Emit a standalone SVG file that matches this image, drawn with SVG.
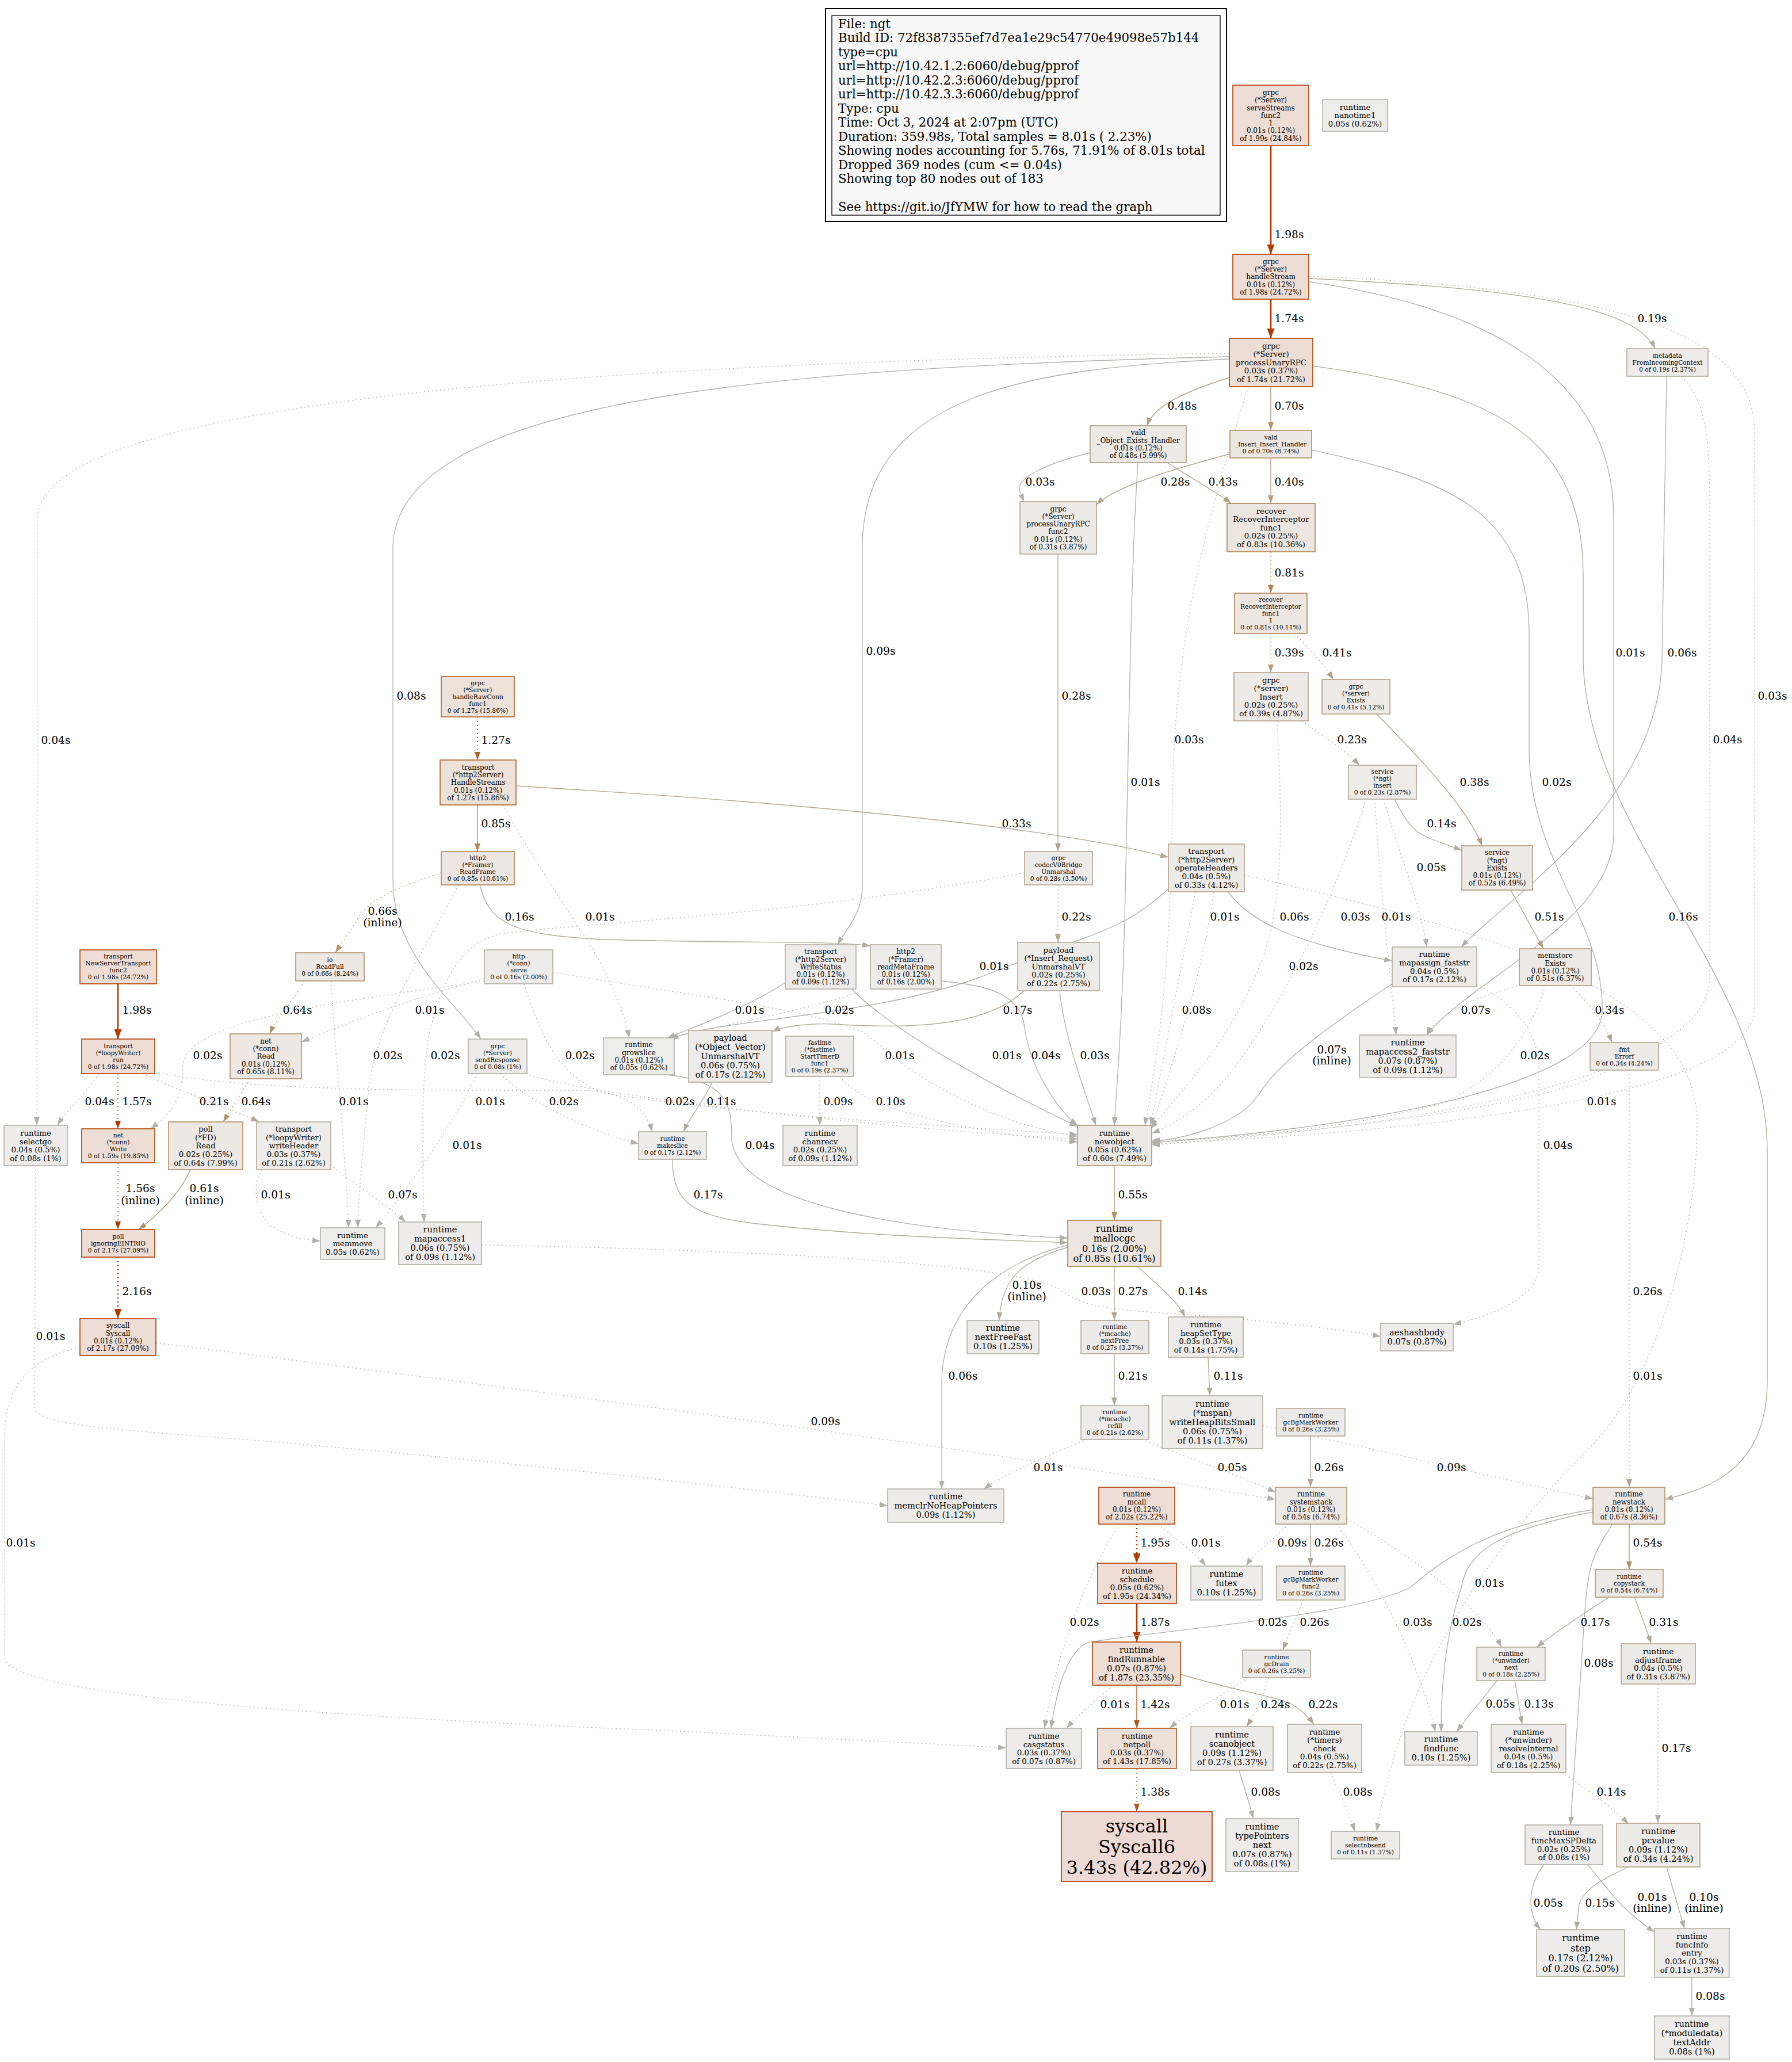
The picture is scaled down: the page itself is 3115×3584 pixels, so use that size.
<svg xmlns="http://www.w3.org/2000/svg" width="3115" height="3584" viewBox="0 0 3115 3584">
<style>
text{font-family:"DejaVu Serif","Liberation Serif",serif;fill:#000}
.n text{text-anchor:middle}
.f8{font-size:10.67px}.f9{font-size:12px}.f10{font-size:13.33px}.f11{font-size:14.67px}.f12{font-size:16px}.f24{font-size:32px}
.n rect{stroke-width:1.6}
#edges path{fill:none;stroke-width:1.33}
#edges path.w{stroke-width:2.7}
#edges path.d{stroke-dasharray:2,5}
.k1{stroke:#b23c00;marker-end:url(#m1)}
.k1.w{marker-end:url(#m1w)}
.k2{stroke:#b25718;marker-end:url(#m2)}
.k2b{stroke:#b26124;marker-end:url(#m2b)}
.k3{stroke:#b28456;marker-end:url(#m3)}
.k4{stroke:#b2916b;marker-end:url(#m4)}
.k5{stroke:#b29d81;marker-end:url(#m5)}
.k6{stroke:#b2a691;marker-end:url(#m6)}
.k7{stroke:#b2ac9f;marker-end:url(#m7)}
.k8{stroke:#b2b0aa;marker-end:url(#m8)}
.el{font-size:18.67px;text-anchor:middle}
.lg{font-size:21.33px}
</style>
<defs>
<marker id="m1" viewBox="0 0 14 10" refX="14" refY="5" markerWidth="14" markerHeight="10" markerUnits="userSpaceOnUse" orient="auto"><path d="M0,0 L14,5 L0,10 z" fill="#b23c00"/></marker>
<marker id="m1w" viewBox="0 0 17 13" refX="17" refY="6.5" markerWidth="17" markerHeight="13" markerUnits="userSpaceOnUse" orient="auto"><path d="M0,0 L17,6.5 L0,13 z" fill="#b23c00"/></marker>
<marker id="m2" viewBox="0 0 14 10" refX="14" refY="5" markerWidth="14" markerHeight="10" markerUnits="userSpaceOnUse" orient="auto"><path d="M0,0 L14,5 L0,10 z" fill="#b25718"/></marker>
<marker id="m2b" viewBox="0 0 14 10" refX="14" refY="5" markerWidth="14" markerHeight="10" markerUnits="userSpaceOnUse" orient="auto"><path d="M0,0 L14,5 L0,10 z" fill="#b26124"/></marker>
<marker id="m3" viewBox="0 0 14 10" refX="14" refY="5" markerWidth="14" markerHeight="10" markerUnits="userSpaceOnUse" orient="auto"><path d="M0,0 L14,5 L0,10 z" fill="#b28456"/></marker>
<marker id="m4" viewBox="0 0 14 10" refX="14" refY="5" markerWidth="14" markerHeight="10" markerUnits="userSpaceOnUse" orient="auto"><path d="M0,0 L14,5 L0,10 z" fill="#b2916b"/></marker>
<marker id="m5" viewBox="0 0 14 10" refX="14" refY="5" markerWidth="14" markerHeight="10" markerUnits="userSpaceOnUse" orient="auto"><path d="M0,0 L14,5 L0,10 z" fill="#b29d81"/></marker>
<marker id="m6" viewBox="0 0 14 10" refX="14" refY="5" markerWidth="14" markerHeight="10" markerUnits="userSpaceOnUse" orient="auto"><path d="M0,0 L14,5 L0,10 z" fill="#b2a691"/></marker>
<marker id="m7" viewBox="0 0 14 10" refX="14" refY="5" markerWidth="14" markerHeight="10" markerUnits="userSpaceOnUse" orient="auto"><path d="M0,0 L14,5 L0,10 z" fill="#b2ac9f"/></marker>
<marker id="m8" viewBox="0 0 14 10" refX="14" refY="5" markerWidth="14" markerHeight="10" markerUnits="userSpaceOnUse" orient="auto"><path d="M0,0 L14,5 L0,10 z" fill="#b2b0aa"/></marker>
</defs>
<rect x="0" y="0" width="3115" height="3584" fill="#ffffff"/>

<g id="legend">
<rect x="1435" y="15" width="697" height="370" fill="none" stroke="#000" stroke-width="2"/>
<rect x="1446" y="27" width="675" height="347" fill="#f8f8f8" stroke="#000" stroke-width="1.33"/>
<text class="lg" x="1457" y="48.5">File: ngt<tspan x="1457" dy="24.5">Build ID: 72f8387355ef7d7ea1e29c54770e49098e57b144</tspan><tspan x="1457" dy="24.5">type=cpu</tspan><tspan x="1457" dy="24.5">url=http://10.42.1.2:6060/debug/pprof</tspan><tspan x="1457" dy="24.5">url=http://10.42.2.3:6060/debug/pprof</tspan><tspan x="1457" dy="24.5">url=http://10.42.3.3:6060/debug/pprof</tspan><tspan x="1457" dy="24.5">Type: cpu</tspan><tspan x="1457" dy="24.5">Time: Oct 3, 2024 at 2:07pm (UTC)</tspan><tspan x="1457" dy="24.5">Duration: 359.98s, Total samples = 8.01s ( 2.23%)</tspan><tspan x="1457" dy="24.5">Showing nodes accounting for 5.76s, 71.91% of 8.01s total</tspan><tspan x="1457" dy="24.5">Dropped 369 nodes (cum &lt;= 0.04s)</tspan><tspan x="1457" dy="24.5">Showing top 80 nodes out of 183</tspan><tspan x="1457" dy="49">See https://git.io/JfYMW for how to read the graph</tspan></text>
</g>

<g id="edges">
<path class="k1 w" d="M2209,253 L2209,442"/>
<path class="k1 w" d="M2209,520 L2209,588"/>
<path class="k7" d="M2276,484 C2600,500 2840,525 2877,606"/>
<path class="k8" d="M2276,490 C2560,530 2805,640 2805,900 L2805,1450 C2805,1600 2560,1700 2480,1799"/>
<path class="k8 d" d="M2276,480 C2750,500 3050,560 3050,750 L3050,1750 C3050,1930 2300,1975 2002,1988"/>
<path class="k5" d="M2150,652 C2060,680 2005,705 1994,740"/>
<path class="k4" d="M2209,672 L2209,748"/>
<path class="k8 d" d="M2170,672 C2100,900 2040,1100 2038,1400 C2035,1700 2010,1850 1990,1956"/>
<path class="k8" d="M2137,624 C1800,640 1500,680 1499,950 L1499,1540 C1499,1590 1470,1615 1456,1642"/>
<path class="k8" d="M2137,620 C1300,640 690,700 683,950 L683,1530 C683,1660 790,1740 836,1806"/>
<path class="k8 d" d="M2137,614 C1000,630 70,700 65,900 L64,1956"/>
<path class="k8" d="M1895,787 C1820,805 1768,830 1772,852 L1780,872"/>
<path class="k6" d="M2138,789 C2040,815 1940,845 1906,877"/>
<path class="k5" d="M2029,804 C2065,828 2115,855 2140,875"/>
<path class="k5" d="M2209,796 L2209,875"/>
<path class="k8" d="M1978,804 C1965,1000 1962,1300 1955,1600 C1950,1800 1940,1900 1937,1956"/>
<path class="k8" d="M2280,782 C2500,830 2658,880 2658,1100 L2658,1300 C2658,1500 2790,1600 2785,1760 C2775,1900 2300,1965 2002,1986"/>
<path class="k3 d" d="M2209,959 L2209,1031"/>
<path class="k5 d" d="M2209,1101 L2209,1169"/>
<path class="k5 d" d="M2250,1101 C2280,1130 2300,1155 2318,1181"/>
<path class="k8" d="M2897,654 L2889,1150 C2880,1400 2620,1560 2540,1646"/>
<path class="k8 d" d="M2923,654 C2965,700 2972,750 2972,900 L2972,1700 C2972,1900 2300,1970 2002,1990"/>
<path class="k6" d="M1839,963 L1839,1480"/>
<path class="k6 d" d="M2263,1253 C2300,1280 2340,1305 2363,1330"/>
<path class="k8 d" d="M2220,1253 C2228,1400 2232,1550 2200,1650 C2150,1800 2050,1900 2000,1962"/>
<path class="k5" d="M2393,1241 C2450,1300 2550,1400 2576,1470"/>
<path class="k7" d="M2424,1389 C2440,1420 2455,1445 2480,1455 C2505,1465 2525,1472 2541,1478"/>
<path class="k8 d" d="M2405,1389 C2430,1480 2470,1570 2480,1646"/>
<path class="k8 d" d="M2390,1389 C2395,1500 2415,1680 2427,1799"/>
<path class="k8 d" d="M2375,1389 C2340,1500 2260,1700 2150,1850 C2100,1920 2040,1955 2002,1970"/>
<path class="k5" d="M2626,1547 L2683,1649"/>
<path class="k7" d="M2282,636 C2600,680 2752,760 2752,1000 L2752,1150 C2760,1450 3072,1700 3072,2000 L3072,2400 C3072,2560 2960,2590 2894,2606"/>
<path class="k2b d" d="M830,1246 L830,1321"/>
<path class="k3" d="M830,1399 L830,1480"/>
<path class="k6" d="M897,1366 C1300,1390 1800,1430 2031,1490"/>
<path class="k8 d" d="M874,1399 C930,1500 1000,1600 1030,1650 C1060,1700 1085,1760 1094,1804"/>
<path class="k4 d" d="M767,1517 C700,1540 640,1560 620,1600 C605,1625 590,1645 583,1656"/>
<path class="k7" d="M834,1538 C850,1600 880,1625 1050,1633 C1300,1640 1450,1635 1513,1644"/>
<path class="k6 d" d="M1839,1538 L1839,1638"/>
<path class="k8 d" d="M1781,1517 C1400,1590 1000,1605 870,1623 C800,1640 770,1700 745,1800 C730,1900 735,2050 737,2124"/>
<path class="k1 w" d="M205,1710 L205,1806"/>
<path class="k4 d" d="M529,1705 C510,1740 480,1770 469,1797"/>
<path class="k8 d" d="M842,1701 C700,1740 600,1780 524,1811"/>
<path class="k8 d" d="M842,1705 C600,1740 330,1770 318,1850 C318,1920 290,1940 262,1962"/>
<path class="k1 d" d="M205,1866 L205,1962"/>
<path class="k8 d" d="M172,1866 C150,1900 115,1930 100,1956"/>
<path class="k6 d" d="M248,1866 C320,1900 420,1935 450,1950"/>
<path class="k8 d" d="M255,1860 C400,1895 700,1896 1000,1895 C1080,1895 1120,1920 1134,1967"/>
<path class="k4 d" d="M435,1875 C420,1900 400,1930 388,1950"/>
<path class="k1 d" d="M205,2021 L205,2137"/>
<path class="k4" d="M331,2033 C310,2080 270,2115 241,2137"/>
<path class="k1 w d" d="M205,2185 L205,2292"/>
<path class="k8 d" d="M455,2033 C440,2060 440,2100 470,2130 C500,2150 530,2155 557,2157"/>
<path class="k8 d" d="M574,2025 C620,2060 680,2100 705,2124"/>
<path class="k8 d" d="M576,1705 C580,1800 600,2000 606,2134"/>
<path class="k8 d" d="M797,1538 C740,1650 650,1780 640,1900 C632,2000 622,2080 622,2134"/>
<path class="k8 d" d="M830,1866 C790,1950 700,2080 653,2134"/>
<path class="k8 d" d="M870,1866 C900,1900 1000,1960 1110,1988"/>
<path class="k8 d" d="M914,1866 C1000,1900 1500,1960 1873,1980"/>
<path class="k8 d" d="M911,1710 C940,1800 970,1870 1050,1900 C1300,1940 1700,1960 1873,1972"/>
<path class="k8 d" d="M961,1690 C1200,1730 1450,1760 1510,1800 C1560,1850 1700,1950 1873,1975"/>
<path class="k7" d="M1780,1722 C1720,1780 1600,1790 1450,1780 C1400,1778 1360,1785 1342,1793"/>
<path class="k8" d="M1842,1722 C1850,1800 1880,1880 1905,1956"/>
<path class="k8" d="M1636,1705 C1700,1712 1770,1720 1780,1780 C1790,1860 1840,1930 1873,1956"/>
<path class="k8" d="M1480,1719 C1560,1800 1750,1900 1873,1958"/>
<path class="k8" d="M1365,1708 C1300,1750 1220,1780 1160,1804"/>
<path class="k8 d" d="M1513,1717 C1400,1760 1250,1780 1165,1805"/>
<path class="k8" d="M2031,1545 C1950,1620 1900,1620 1700,1700 C1500,1770 1250,1770 1165,1806"/>
<path class="k8" d="M1160,1868 C1265,1880 1272,1920 1272,1980 C1280,2100 1600,2140 1856,2152"/>
<path class="k7" d="M1238,1881 C1225,1910 1200,1940 1188,1967"/>
<path class="k7" d="M1169,2015 C1170,2080 1190,2110 1300,2125 C1500,2150 1750,2155 1856,2160"/>
<path class="k8 d" d="M1425,1871 L1425,1956"/>
<path class="k7 d" d="M1460,1871 C1500,1930 1700,1970 1873,1985"/>
<path class="k4" d="M1937,2026 L1937,2121"/>
<path class="k7" d="M1856,2168 C1780,2190 1740,2220 1737,2295"/>
<path class="k8" d="M1856,2164 C1720,2200 1640,2280 1637,2400 L1637,2588"/>
<path class="k6" d="M1937,2201 L1937,2295"/>
<path class="k7" d="M1977,2201 C2020,2240 2045,2260 2060,2289"/>
<path class="k8 d" d="M837,2164 C1200,2170 1750,2190 1840,2240 C1880,2270 1920,2276 2050,2284 C2200,2295 2330,2310 2400,2323"/>
<path class="k6" d="M1937,2353 L1937,2443"/>
<path class="k7" d="M2100,2359 L2103,2426"/>
<path class="k8 d" d="M1890,2502 C1820,2530 1750,2560 1710,2588"/>
<path class="k8 d" d="M1985,2502 C2080,2540 2170,2570 2217,2594"/>
<path class="k6" d="M2278,2496 L2278,2585"/>
<path class="k8 d" d="M271,2334 C800,2400 1400,2480 1800,2540 C2000,2570 2150,2595 2217,2606"/>
<path class="k8 d" d="M2195,2478 C2400,2520 2650,2580 2769,2605"/>
<path class="k1 w d" d="M1976,2649 L1976,2717"/>
<path class="k8 d" d="M2013,2649 C2050,2680 2080,2700 2096,2722"/>
<path class="k8 d" d="M1946,2649 C1880,2750 1830,2900 1816,3004"/>
<path class="k8 d" d="M2240,2649 C2210,2680 2180,2700 2166,2722"/>
<path class="k6" d="M2278,2649 L2278,2722"/>
<path class="k8 d" d="M2323,2649 C2400,2750 2470,2900 2495,3010"/>
<path class="k8 d" d="M2341,2640 C2450,2700 2580,2800 2610,2863"/>
<path class="k1 w" d="M1976,2787 L1976,2854"/>
<path class="k8" d="M2769,2624 C2600,2650 2520,2700 2450,2760 C2350,2810 2000,2835 1890,2855 C1850,2875 1835,2950 1827,3004"/>
<path class="k8" d="M2769,2628 C2600,2660 2550,2700 2540,2760 C2510,2850 2505,2950 2505,3010"/>
<path class="k4" d="M2832,2649 L2832,2728"/>
<path class="k8" d="M2803,2649 C2770,2700 2760,2720 2755,2800 L2730,3172"/>
<path class="k6 d" d="M2265,2781 C2255,2810 2240,2840 2230,2868"/>
<path class="k8 d" d="M1934,2929 C1900,2960 1870,2985 1854,3004"/>
<path class="k2" d="M1976,2929 L1976,3004"/>
<path class="k6" d="M2052,2910 C2150,2940 2230,2950 2250,2965 C2265,2975 2275,2985 2284,2997"/>
<path class="k8 d" d="M2170,2916 C2120,2950 2060,2980 2033,3004"/>
<path class="k6 d" d="M2205,2916 C2195,2950 2180,2980 2167,3001"/>
<path class="k2 d" d="M1976,3074 L1976,3149"/>
<path class="k8" d="M2154,3077 L2179,3161"/>
<path class="k8 d" d="M2313,3081 C2330,3120 2345,3150 2355,3183"/>
<path class="k8 d" d="M2163,1521 C2500,1600 2950,1700 2950,1950 C2950,2150 2880,2400 2760,2520 C2600,2680 2440,2900 2393,3183"/>
<path class="k7" d="M2797,2776 C2760,2800 2700,2840 2671,2863"/>
<path class="k6" d="M2841,2776 C2850,2800 2862,2830 2870,2857"/>
<path class="k8" d="M2602,2921 C2580,2950 2550,2985 2532,3010"/>
<path class="k7" d="M2633,2921 C2638,2950 2642,2975 2646,2997"/>
<path class="k7 d" d="M2715,3081 C2760,3110 2800,3140 2831,3170"/>
<path class="k7 d" d="M2882,2927 L2882,3169"/>
<path class="k8" d="M2684,3241 C2660,3270 2650,3320 2678,3354"/>
<path class="k8" d="M2760,3241 C2800,3290 2820,3320 2876,3358"/>
<path class="k7" d="M2830,3245 C2790,3265 2755,3280 2745,3310 L2740,3354"/>
<path class="k7" d="M2897,3245 L2928,3352"/>
<path class="k8" d="M2941,3437 L2941,3504"/>
<path class="k8 d" d="M139,2342 C60,2360 8,2400 8,2500 L8,2880 C8,2950 600,2985 1200,3010 C1500,3025 1700,3035 1749,3038"/>
<path class="k8 d" d="M62,2026 L60,2440 C60,2470 100,2478 400,2500 C900,2540 1400,2600 1543,2617"/>
<path class="k8" d="M2135,1550 C2170,1600 2250,1640 2420,1670"/>
<path class="k8 d" d="M2078,1550 C2050,1700 2020,1850 2000,1956"/>
<path class="k8 d" d="M2110,1550 C2090,1700 2030,1870 2002,1960"/>
<path class="k8" d="M2420,1710 C2300,1790 2220,1850 2190,1900 C2150,1960 2050,1980 2002,1984"/>
<path class="k8 d" d="M2643,1713 C2600,1725 2560,1735 2520,1760 C2500,1775 2485,1785 2480,1799"/>
<path class="k6 d" d="M2729,1713 C2760,1740 2790,1780 2802,1812"/>
<path class="k8 d" d="M2686,1713 C2660,1800 2600,1880 2500,1920 C2300,1970 2100,1980 2002,1982"/>
<path class="k8 d" d="M2567,1710 C2620,1740 2670,1780 2675,1850 L2675,2200 C2675,2260 2580,2290 2526,2302"/>
<path class="k8 d" d="M2796,1860 C2700,1920 2300,1970 2002,1986"/>
<path class="k6 d" d="M2832,1860 L2832,2585"/>

<text class="el" x="2241" y="413.5">1.98s</text>
<text class="el" x="2241" y="559.5">1.74s</text>
<text class="el" x="2872" y="559.5">0.19s</text>
<text class="el" x="2055" y="711.5">0.48s</text>
<text class="el" x="2241" y="711.5">0.70s</text>
<text class="el" x="1808" y="843.5">0.03s</text>
<text class="el" x="2043" y="843.5">0.28s</text>
<text class="el" x="2126" y="843.5">0.43s</text>
<text class="el" x="2241" y="843.5">0.40s</text>
<text class="el" x="2241" y="1001.5">0.81s</text>
<text class="el" x="2241" y="1140.5">0.39s</text>
<text class="el" x="2324" y="1140.5">0.41s</text>
<text class="el" x="2834" y="1140.5">0.01s</text>
<text class="el" x="2924" y="1140.5">0.06s</text>
<text class="el" x="3081" y="1215.5">0.03s</text>
<text class="el" x="1871" y="1215.5">0.28s</text>
<text class="el" x="1531" y="1137.5">0.09s</text>
<text class="el" x="715" y="1215.5">0.08s</text>
<text class="el" x="97" y="1292.5">0.04s</text>
<text class="el" x="862" y="1292.5">1.27s</text>
<text class="el" x="2067" y="1291.5">0.03s</text>
<text class="el" x="2350" y="1291.5">0.23s</text>
<text class="el" x="3003" y="1291.5">0.04s</text>
<text class="el" x="1991" y="1365.5">0.01s</text>
<text class="el" x="2563" y="1365.5">0.38s</text>
<text class="el" x="2706" y="1365.5">0.02s</text>
<text class="el" x="862" y="1437.5">0.85s</text>
<text class="el" x="1767" y="1437.5">0.33s</text>
<text class="el" x="2506" y="1437.5">0.14s</text>
<text class="el" x="2488" y="1513.5">0.05s</text>
<text class="el" x="665" y="1589.5">0.66s</text>
<text class="el" x="665" y="1610">(inline)</text>
<text class="el" x="903" y="1599.5">0.16s</text>
<text class="el" x="1043" y="1599.5">0.01s</text>
<text class="el" x="1871" y="1599.5">0.22s</text>
<text class="el" x="2129" y="1599.5">0.01s</text>
<text class="el" x="2250" y="1599.5">0.06s</text>
<text class="el" x="2356" y="1599.5">0.03s</text>
<text class="el" x="2427" y="1599.5">0.01s</text>
<text class="el" x="2693" y="1599.5">0.51s</text>
<text class="el" x="2926" y="1599.5">0.16s</text>
<text class="el" x="1728" y="1686">0.01s</text>
<text class="el" x="2266" y="1686">0.02s</text>
<text class="el" x="238" y="1761.5">1.98s</text>
<text class="el" x="517" y="1761.5">0.64s</text>
<text class="el" x="747" y="1761.5">0.01s</text>
<text class="el" x="1303" y="1761.5">0.01s</text>
<text class="el" x="1459" y="1761.5">0.02s</text>
<text class="el" x="1769" y="1761.5">0.17s</text>
<text class="el" x="2080" y="1761.5">0.08s</text>
<text class="el" x="2565" y="1761.5">0.07s</text>
<text class="el" x="2798" y="1761.5">0.34s</text>
<text class="el" x="2315" y="1830.5">0.07s</text>
<text class="el" x="2315" y="1849.5">(inline)</text>
<text class="el" x="361" y="1840.5">0.02s</text>
<text class="el" x="674" y="1840.5">0.02s</text>
<text class="el" x="774" y="1840.5">0.02s</text>
<text class="el" x="1008" y="1840.5">0.02s</text>
<text class="el" x="1564" y="1840.5">0.01s</text>
<text class="el" x="1750" y="1840.5">0.01s</text>
<text class="el" x="1818" y="1840.5">0.04s</text>
<text class="el" x="1903" y="1840.5">0.03s</text>
<text class="el" x="2668" y="1840.5">0.02s</text>
<text class="el" x="173" y="1920.5">0.04s</text>
<text class="el" x="238" y="1920.5">1.57s</text>
<text class="el" x="372" y="1920.5">0.21s</text>
<text class="el" x="445" y="1920.5">0.64s</text>
<text class="el" x="615" y="1920.5">0.01s</text>
<text class="el" x="852" y="1920.5">0.01s</text>
<text class="el" x="980" y="1920.5">0.02s</text>
<text class="el" x="1182" y="1920.5">0.02s</text>
<text class="el" x="1254" y="1920.5">0.11s</text>
<text class="el" x="1457" y="1920.5">0.09s</text>
<text class="el" x="1548" y="1920.5">0.10s</text>
<text class="el" x="2784" y="1920.5">0.01s</text>
<text class="el" x="812" y="1996.5">0.01s</text>
<text class="el" x="1321" y="1996.5">0.04s</text>
<text class="el" x="2708" y="1996.5">0.04s</text>
<text class="el" x="244" y="2072">1.56s</text>
<text class="el" x="244" y="2092.5">(inline)</text>
<text class="el" x="355" y="2072">0.61s</text>
<text class="el" x="355" y="2092.5">(inline)</text>
<text class="el" x="479" y="2082.5">0.01s</text>
<text class="el" x="700" y="2082.5">0.07s</text>
<text class="el" x="1231" y="2082.5">0.17s</text>
<text class="el" x="1969" y="2082.5">0.55s</text>
<text class="el" x="238" y="2250.5">2.16s</text>
<text class="el" x="1785" y="2239.5">0.10s</text>
<text class="el" x="1785" y="2260">(inline)</text>
<text class="el" x="1905" y="2250.5">0.03s</text>
<text class="el" x="1969" y="2250.5">0.27s</text>
<text class="el" x="2073" y="2250.5">0.14s</text>
<text class="el" x="2864" y="2250.5">0.26s</text>
<text class="el" x="88" y="2328.5">0.01s</text>
<text class="el" x="1674" y="2398">0.06s</text>
<text class="el" x="1969" y="2398">0.21s</text>
<text class="el" x="2135" y="2398">0.11s</text>
<text class="el" x="2864" y="2398">0.01s</text>
<text class="el" x="1435" y="2477">0.09s</text>
<text class="el" x="1822" y="2556.5">0.01s</text>
<text class="el" x="2142" y="2556.5">0.05s</text>
<text class="el" x="2310" y="2556.5">0.26s</text>
<text class="el" x="2523" y="2556.5">0.09s</text>
<text class="el" x="36" y="2687.5">0.01s</text>
<text class="el" x="2008" y="2688">1.95s</text>
<text class="el" x="2096" y="2688">0.01s</text>
<text class="el" x="2246" y="2688">0.09s</text>
<text class="el" x="2310" y="2688">0.26s</text>
<text class="el" x="2864" y="2688">0.54s</text>
<text class="el" x="2589" y="2757.5">0.01s</text>
<text class="el" x="1885" y="2825.5">0.02s</text>
<text class="el" x="2008" y="2825.5">1.87s</text>
<text class="el" x="2212" y="2825.5">0.02s</text>
<text class="el" x="2285" y="2825.5">0.26s</text>
<text class="el" x="2464" y="2825.5">0.03s</text>
<text class="el" x="2550" y="2825.5">0.02s</text>
<text class="el" x="2773" y="2825.5">0.17s</text>
<text class="el" x="2892" y="2825.5">0.31s</text>
<text class="el" x="2779" y="2897">0.08s</text>
<text class="el" x="1938" y="2968.5">0.01s</text>
<text class="el" x="2008" y="2968.5">1.42s</text>
<text class="el" x="2146" y="2968.5">0.01s</text>
<text class="el" x="2217" y="2968.5">0.24s</text>
<text class="el" x="2300" y="2968.5">0.22s</text>
<text class="el" x="2608" y="2968">0.05s</text>
<text class="el" x="2675" y="2968">0.13s</text>
<text class="el" x="2914" y="3044.5">0.17s</text>
<text class="el" x="2008" y="3120.5">1.38s</text>
<text class="el" x="2200" y="3120.5">0.08s</text>
<text class="el" x="2360" y="3120.5">0.08s</text>
<text class="el" x="2801" y="3120.5">0.14s</text>
<text class="el" x="2691" y="3313.5">0.05s</text>
<text class="el" x="2781" y="3313.5">0.15s</text>
<text class="el" x="2872" y="3303.5">0.01s</text>
<text class="el" x="2872" y="3322.5">(inline)</text>
<text class="el" x="2962" y="3303.5">0.10s</text>
<text class="el" x="2962" y="3322.5">(inline)</text>
<text class="el" x="2973" y="3476">0.08s</text>
</g>

<g id="n-serveStreams" class="n"><rect x="2143" y="148" width="132" height="105" fill="#edddd5" stroke="#b23d00"/><text class="f9" x="2209" y="164.9">grpc<tspan x="2209" dy="13.3">(*Server)</tspan><tspan x="2209" dy="13.3">serveStreams</tspan><tspan x="2209" dy="13.3">func2</tspan><tspan x="2209" dy="13.3">1</tspan><tspan x="2209" dy="13.3">0.01s (0.12%)</tspan><tspan x="2209" dy="13.3">of 1.99s (24.84%)</tspan></text></g>
<g id="n-nanotime1" class="n"><rect x="2299" y="173" width="113" height="55" fill="#ededec" stroke="#b2b1ac"/><text class="f10" x="2355.5" y="190.7">runtime<tspan x="2355.5" dy="14.6">nanotime1</tspan><tspan x="2355.5" dy="14.6">0.05s (0.62%)</tspan></text></g>
<g id="n-handleStream" class="n"><rect x="2143" y="442" width="132" height="78" fill="#edddd5" stroke="#b23d00"/><text class="f9" x="2209" y="458.7">grpc<tspan x="2209" dy="13.3">(*Server)</tspan><tspan x="2209" dy="13.3">handleStream</tspan><tspan x="2209" dy="13.3">0.01s (0.12%)</tspan><tspan x="2209" dy="13.3">of 1.98s (24.72%)</tspan></text></g>
<g id="n-processUnaryRPC" class="n"><rect x="2137" y="588" width="145" height="84" fill="#edded5" stroke="#b24100"/><text class="f10" x="2209.5" y="605.6">grpc<tspan x="2209.5" dy="14.6">(*Server)</tspan><tspan x="2209.5" dy="14.6">processUnaryRPC</tspan><tspan x="2209.5" dy="14.6">0.03s (0.37%)</tspan><tspan x="2209.5" dy="14.6">of 1.74s (21.72%)</tspan></text></g>
<g id="n-FromIncomingContext" class="n"><rect x="2828" y="606" width="141" height="48" fill="#edecea" stroke="#b2ab9d"/><text class="f8" x="2898.5" y="621.8">metadata<tspan x="2898.5" dy="12">FromIncomingContext</tspan><tspan x="2898.5" dy="12">0 of 0.19s (2.37%)</tspan></text></g>
<g id="n-ObjectExistsHandler" class="n"><rect x="1895" y="740" width="167" height="64" fill="#edeae6" stroke="#b29b7d"/><text class="f9" x="1978.5" y="756.3">vald<tspan x="1978.5" dy="13.3">_Object_Exists_Handler</tspan><tspan x="1978.5" dy="13.3">0.01s (0.12%)</tspan><tspan x="1978.5" dy="13.3">of 0.48s (5.99%)</tspan></text></g>
<g id="n-InsertInsertHandler" class="n"><rect x="2138" y="748" width="142" height="48" fill="#ede8e2" stroke="#b28d64"/><text class="f8" x="2209" y="763.8">vald<tspan x="2209" dy="12">_Insert_Insert_Handler</tspan><tspan x="2209" dy="12">0 of 0.70s (8.74%)</tspan></text></g>
<g id="n-processUnaryRPCfunc2" class="n"><rect x="1773" y="872" width="133" height="91" fill="#edebe8" stroke="#b2a58f"/><text class="f9" x="1839.5" y="888.5">grpc<tspan x="1839.5" dy="13.3">(*Server)</tspan><tspan x="1839.5" dy="13.3">processUnaryRPC</tspan><tspan x="1839.5" dy="13.3">func2</tspan><tspan x="1839.5" dy="13.3">0.01s (0.12%)</tspan><tspan x="1839.5" dy="13.3">of 0.31s (3.87%)</tspan></text></g>
<g id="n-RecoverInterceptorfunc1" class="n"><rect x="2133" y="875" width="153" height="84" fill="#ede6e0" stroke="#b28356"/><text class="f10" x="2209.5" y="892.6">recover<tspan x="2209.5" dy="14.6">RecoverInterceptor</tspan><tspan x="2209.5" dy="14.6">func1</tspan><tspan x="2209.5" dy="14.6">0.02s (0.25%)</tspan><tspan x="2209.5" dy="14.6">of 0.83s (10.36%)</tspan></text></g>
<g id="n-RecoverInterceptorfunc1_1" class="n"><rect x="2146" y="1031" width="126" height="70" fill="#ede6e1" stroke="#b28558"/><text class="f8" x="2209" y="1045.8">recover<tspan x="2209" dy="12">RecoverInterceptor</tspan><tspan x="2209" dy="12">func1</tspan><tspan x="2209" dy="12">1</tspan><tspan x="2209" dy="12">0 of 0.81s (10.11%)</tspan></text></g>
<g id="n-serverInsert" class="n"><rect x="2145" y="1169" width="129" height="84" fill="#edeae7" stroke="#b2a087"/><text class="f10" x="2209.5" y="1186.6">grpc<tspan x="2209.5" dy="14.6">(*server)</tspan><tspan x="2209.5" dy="14.6">Insert</tspan><tspan x="2209.5" dy="14.6">0.02s (0.25%)</tspan><tspan x="2209.5" dy="14.6">of 0.39s (4.87%)</tspan></text></g>
<g id="n-serverExists" class="n"><rect x="2298" y="1181" width="118" height="60" fill="#edeae7" stroke="#b29f84"/><text class="f8" x="2357" y="1196.8">grpc<tspan x="2357" dy="12">(*server)</tspan><tspan x="2357" dy="12">Exists</tspan><tspan x="2357" dy="12">0 of 0.41s (5.12%)</tspan></text></g>
<g id="n-ngtinsert" class="n"><rect x="2344" y="1330" width="118" height="59" fill="#edece9" stroke="#b2a998"/><text class="f8" x="2403" y="1345.3">service<tspan x="2403" dy="12">(*ngt)</tspan><tspan x="2403" dy="12">insert</tspan><tspan x="2403" dy="12">0 of 0.23s (2.87%)</tspan></text></g>
<g id="n-operateHeaders" class="n"><rect x="2031" y="1467" width="132" height="83" fill="#edebe8" stroke="#b2a48d"/><text class="f10" x="2097" y="1484.1">transport<tspan x="2097" dy="14.6">(*http2Server)</tspan><tspan x="2097" dy="14.6">operateHeaders</tspan><tspan x="2097" dy="14.6">0.04s (0.5%)</tspan><tspan x="2097" dy="14.6">of 0.33s (4.12%)</tspan></text></g>
<g id="n-ngtExists" class="n"><rect x="2541" y="1470" width="123" height="77" fill="#ede9e5" stroke="#b29978"/><text class="f9" x="2602.5" y="1486.2">service<tspan x="2602.5" dy="13.3">(*ngt)</tspan><tspan x="2602.5" dy="13.3">Exists</tspan><tspan x="2602.5" dy="13.3">0.01s (0.12%)</tspan><tspan x="2602.5" dy="13.3">of 0.52s (6.49%)</tspan></text></g>
<g id="n-mapassign_faststr" class="n"><rect x="2420" y="1646" width="147" height="69" fill="#edecea" stroke="#b2ac9f"/><text class="f10" x="2493.5" y="1663.4">runtime<tspan x="2493.5" dy="14.6">mapassign_faststr</tspan><tspan x="2493.5" dy="14.6">0.04s (0.5%)</tspan><tspan x="2493.5" dy="14.6">of 0.17s (2.12%)</tspan></text></g>
<g id="n-memstoreExists" class="n"><rect x="2641" y="1649" width="125" height="64" fill="#ede9e5" stroke="#b29979"/><text class="f9" x="2703.5" y="1665.3">memstore<tspan x="2703.5" dy="13.3">Exists</tspan><tspan x="2703.5" dy="13.3">0.01s (0.12%)</tspan><tspan x="2703.5" dy="13.3">of 0.51s (6.37%)</tspan></text></g>
<g id="n-mapaccess2_faststr" class="n"><rect x="2363" y="1799" width="168" height="74" fill="#edeceb" stroke="#b2afa8"/><text class="f11" x="2447" y="1817.3">runtime<tspan x="2447" dy="16">mapaccess2_faststr</tspan><tspan x="2447" dy="16">0.07s (0.87%)</tspan><tspan x="2447" dy="16">of 0.09s (1.12%)</tspan></text></g>
<g id="n-Errorf" class="n"><rect x="2764" y="1812" width="119" height="48" fill="#edebe8" stroke="#b2a38c"/><text class="f8" x="2823.5" y="1827.8">fmt<tspan x="2823.5" dy="12">Errorf</tspan><tspan x="2823.5" dy="12">0 of 0.34s (4.24%)</tspan></text></g>
<g id="n-heapSetType" class="n"><rect x="2031" y="2289" width="130" height="70" fill="#edeceb" stroke="#b2ada2"/><text class="f10" x="2096" y="2306.9">runtime<tspan x="2096" dy="14.6">heapSetType</tspan><tspan x="2096" dy="14.6">0.03s (0.37%)</tspan><tspan x="2096" dy="14.6">of 0.14s (1.75%)</tspan></text></g>
<g id="n-aeshashbody" class="n"><rect x="2400" y="2300" width="126" height="48" fill="#edeceb" stroke="#b2b0aa"/><text class="f11" x="2463" y="2321.3">aeshashbody<tspan x="2463" dy="16">0.07s (0.87%)</tspan></text></g>
<g id="n-writeHeapBitsSmall" class="n"><rect x="2020" y="2426" width="175" height="92" fill="#edeceb" stroke="#b2afa6"/><text class="f11" x="2107.5" y="2445.3">runtime<tspan x="2107.5" dy="16">(*mspan)</tspan><tspan x="2107.5" dy="16">writeHeapBitsSmall</tspan><tspan x="2107.5" dy="16">0.06s (0.75%)</tspan><tspan x="2107.5" dy="16">of 0.11s (1.37%)</tspan></text></g>
<g id="n-gcBgMarkWorker" class="n"><rect x="2219" y="2448" width="119" height="48" fill="#edebe9" stroke="#b2a895"/><text class="f8" x="2278.5" y="2463.8">runtime<tspan x="2278.5" dy="12">gcBgMarkWorker</tspan><tspan x="2278.5" dy="12">0 of 0.26s (3.25%)</tspan></text></g>
<g id="n-handleRawConnfunc1" class="n"><rect x="767" y="1176" width="127" height="70" fill="#ede2da" stroke="#b26124"/><text class="f8" x="830.5" y="1190.8">grpc<tspan x="830.5" dy="12">(*Server)</tspan><tspan x="830.5" dy="12">handleRawConn</tspan><tspan x="830.5" dy="12">func1</tspan><tspan x="830.5" dy="12">0 of 1.27s (15.86%)</tspan></text></g>
<g id="n-HandleStreams" class="n"><rect x="765" y="1321" width="132" height="78" fill="#ede2da" stroke="#b26124"/><text class="f9" x="831" y="1337.7">transport<tspan x="831" dy="13.3">(*http2Server)</tspan><tspan x="831" dy="13.3">HandleStreams</tspan><tspan x="831" dy="13.3">0.01s (0.12%)</tspan><tspan x="831" dy="13.3">of 1.27s (15.86%)</tspan></text></g>
<g id="n-ReadFrame" class="n"><rect x="767" y="1480" width="127" height="58" fill="#ede6e0" stroke="#b28253"/><text class="f8" x="830.5" y="1494.8">http2<tspan x="830.5" dy="12">(*Framer)</tspan><tspan x="830.5" dy="12">ReadFrame</tspan><tspan x="830.5" dy="12">0 of 0.85s (10.61%)</tspan></text></g>
<g id="n-NewServerTransportfunc2" class="n"><rect x="139" y="1651" width="133" height="59" fill="#edddd5" stroke="#b23d00"/><text class="f8" x="205.5" y="1666.3">transport<tspan x="205.5" dy="12">NewServerTransport</tspan><tspan x="205.5" dy="12">func2</tspan><tspan x="205.5" dy="12">0 of 1.98s (24.72%)</tspan></text></g>
<g id="n-ReadFull" class="n"><rect x="514" y="1656" width="119" height="49" fill="#ede8e3" stroke="#b28f68"/><text class="f8" x="573.5" y="1672.3">io<tspan x="573.5" dy="12">ReadFull</tspan><tspan x="573.5" dy="12">0 of 0.66s (8.24%)</tspan></text></g>
<g id="n-connserve" class="n"><rect x="842" y="1651" width="119" height="59" fill="#edecea" stroke="#b2ada0"/><text class="f8" x="901.5" y="1666.3">http<tspan x="901.5" dy="12">(*conn)</tspan><tspan x="901.5" dy="12">serve</tspan><tspan x="901.5" dy="12">0 of 0.16s (2.00%)</tspan></text></g>
<g id="n-loopyWriterrun" class="n"><rect x="142" y="1806" width="127" height="60" fill="#edddd5" stroke="#b23d00"/><text class="f8" x="205.5" y="1821.8">transport<tspan x="205.5" dy="12">(*loopyWriter)</tspan><tspan x="205.5" dy="12">run</tspan><tspan x="205.5" dy="12">0 of 1.98s (24.72%)</tspan></text></g>
<g id="n-connRead" class="n"><rect x="400" y="1797" width="124" height="78" fill="#ede8e3" stroke="#b28f69"/><text class="f9" x="462" y="1813.7">net<tspan x="462" dy="13.3">(*conn)</tspan><tspan x="462" dy="13.3">Read</tspan><tspan x="462" dy="13.3">0.01s (0.12%)</tspan><tspan x="462" dy="13.3">of 0.65s (8.11%)</tspan></text></g>
<g id="n-sendResponse" class="n"><rect x="814" y="1806" width="102" height="60" fill="#edeceb" stroke="#b2b0a9"/><text class="f8" x="865" y="1821.8">grpc<tspan x="865" dy="12">(*Server)</tspan><tspan x="865" dy="12">sendResponse</tspan><tspan x="865" dy="12">0 of 0.08s (1%)</tspan></text></g>
<g id="n-selectgo" class="n"><rect x="7" y="1956" width="110" height="70" fill="#edeceb" stroke="#b2b0a9"/><text class="f10" x="62" y="1973.9">runtime<tspan x="62" dy="14.6">selectgo</tspan><tspan x="62" dy="14.6">0.04s (0.5%)</tspan><tspan x="62" dy="14.6">of 0.08s (1%)</tspan></text></g>
<g id="n-connWrite" class="n"><rect x="142" y="1962" width="127" height="59" fill="#edded5" stroke="#b24501"/><text class="f8" x="205.5" y="1977.3">net<tspan x="205.5" dy="12">(*conn)</tspan><tspan x="205.5" dy="12">Write</tspan><tspan x="205.5" dy="12">0 of 1.59s (19.85%)</tspan></text></g>
<g id="n-FDRead" class="n"><rect x="293" y="1950" width="129" height="83" fill="#ede8e3" stroke="#b29069"/><text class="f10" x="357.5" y="1967.1">poll<tspan x="357.5" dy="14.6">(*FD)</tspan><tspan x="357.5" dy="14.6">Read</tspan><tspan x="357.5" dy="14.6">0.02s (0.25%)</tspan><tspan x="357.5" dy="14.6">of 0.64s (7.99%)</tspan></text></g>
<g id="n-writeHeader" class="n"><rect x="446" y="1950" width="129" height="83" fill="#edecea" stroke="#b2aa9b"/><text class="f10" x="510.5" y="1967.1">transport<tspan x="510.5" dy="14.6">(*loopyWriter)</tspan><tspan x="510.5" dy="14.6">writeHeader</tspan><tspan x="510.5" dy="14.6">0.03s (0.37%)</tspan><tspan x="510.5" dy="14.6">of 0.21s (2.62%)</tspan></text></g>
<g id="n-ignoringEINTRIO" class="n"><rect x="142" y="2137" width="127" height="48" fill="#edddd5" stroke="#b23900"/><text class="f8" x="205.5" y="2152.8">poll<tspan x="205.5" dy="12">ignoringEINTRIO</tspan><tspan x="205.5" dy="12">0 of 2.17s (27.09%)</tspan></text></g>
<g id="n-memmove" class="n"><rect x="557" y="2134" width="112" height="55" fill="#ededec" stroke="#b2b1ac"/><text class="f10" x="613" y="2151.7">runtime<tspan x="613" dy="14.6">memmove</tspan><tspan x="613" dy="14.6">0.05s (0.62%)</tspan></text></g>
<g id="n-mapaccess1" class="n"><rect x="693" y="2124" width="144" height="74" fill="#edeceb" stroke="#b2afa8"/><text class="f11" x="765" y="2142.3">runtime<tspan x="765" dy="16">mapaccess1</tspan><tspan x="765" dy="16">0.06s (0.75%)</tspan><tspan x="765" dy="16">of 0.09s (1.12%)</tspan></text></g>
<g id="n-Syscall" class="n"><rect x="139" y="2292" width="132" height="64" fill="#edddd5" stroke="#b23900"/><text class="f9" x="205" y="2308.4">syscall<tspan x="205" dy="13.3">Syscall</tspan><tspan x="205" dy="13.3">0.01s (0.12%)</tspan><tspan x="205" dy="13.3">of 2.17s (27.09%)</tspan></text></g>
<g id="n-codecV0BridgeUnmarshal" class="n"><rect x="1781" y="1480" width="118" height="58" fill="#edebe9" stroke="#b2a793"/><text class="f8" x="1840" y="1494.8">grpc<tspan x="1840" dy="12">codecV0Bridge</tspan><tspan x="1840" dy="12">Unmarshal</tspan><tspan x="1840" dy="12">0 of 0.28s (3.50%)</tspan></text></g>
<g id="n-WriteStatus" class="n"><rect x="1365" y="1642" width="123" height="77" fill="#edeceb" stroke="#b2afa8"/><text class="f9" x="1426.5" y="1658.2">transport<tspan x="1426.5" dy="13.3">(*http2Server)</tspan><tspan x="1426.5" dy="13.3">WriteStatus</tspan><tspan x="1426.5" dy="13.3">0.01s (0.12%)</tspan><tspan x="1426.5" dy="13.3">of 0.09s (1.12%)</tspan></text></g>
<g id="n-readMetaFrame" class="n"><rect x="1513" y="1642" width="123" height="77" fill="#edecea" stroke="#b2ada0"/><text class="f9" x="1574.5" y="1658.2">http2<tspan x="1574.5" dy="13.3">(*Framer)</tspan><tspan x="1574.5" dy="13.3">readMetaFrame</tspan><tspan x="1574.5" dy="13.3">0.01s (0.12%)</tspan><tspan x="1574.5" dy="13.3">of 0.16s (2.00%)</tspan></text></g>
<g id="n-InsertRequestUnmarshalVT" class="n"><rect x="1769" y="1638" width="142" height="84" fill="#edece9" stroke="#b2a999"/><text class="f10" x="1840" y="1655.6">payload<tspan x="1840" dy="14.6">(*Insert_Request)</tspan><tspan x="1840" dy="14.6">UnmarshalVT</tspan><tspan x="1840" dy="14.6">0.02s (0.25%)</tspan><tspan x="1840" dy="14.6">of 0.22s (2.75%)</tspan></text></g>
<g id="n-growslice" class="n"><rect x="1049" y="1804" width="123" height="64" fill="#ededec" stroke="#b2b1ac"/><text class="f9" x="1110.5" y="1820.3">runtime<tspan x="1110.5" dy="13.3">growslice</tspan><tspan x="1110.5" dy="13.3">0.01s (0.12%)</tspan><tspan x="1110.5" dy="13.3">of 0.05s (0.62%)</tspan></text></g>
<g id="n-ObjectVectorUnmarshalVT" class="n"><rect x="1197" y="1791" width="145" height="90" fill="#edecea" stroke="#b2ac9f"/><text class="f11" x="1269.5" y="1809.3">payload<tspan x="1269.5" dy="16">(*Object_Vector)</tspan><tspan x="1269.5" dy="16">UnmarshalVT</tspan><tspan x="1269.5" dy="16">0.06s (0.75%)</tspan><tspan x="1269.5" dy="16">of 0.17s (2.12%)</tspan></text></g>
<g id="n-StartTimerDfunc1" class="n"><rect x="1366" y="1801" width="118" height="70" fill="#edecea" stroke="#b2ab9d"/><text class="f8" x="1425" y="1815.8">fastime<tspan x="1425" dy="12">(*fastime)</tspan><tspan x="1425" dy="12">StartTimerD</tspan><tspan x="1425" dy="12">func1</tspan><tspan x="1425" dy="12">0 of 0.19s (2.37%)</tspan></text></g>
<g id="n-makeslice" class="n"><rect x="1110" y="1967" width="118" height="48" fill="#edecea" stroke="#b2ac9f"/><text class="f8" x="1169" y="1982.8">runtime<tspan x="1169" dy="12">makeslice</tspan><tspan x="1169" dy="12">0 of 0.17s (2.12%)</tspan></text></g>
<g id="n-chanrecv" class="n"><rect x="1361" y="1956" width="129" height="70" fill="#edeceb" stroke="#b2afa8"/><text class="f10" x="1425.5" y="1973.9">runtime<tspan x="1425.5" dy="14.6">chanrecv</tspan><tspan x="1425.5" dy="14.6">0.02s (0.25%)</tspan><tspan x="1425.5" dy="14.6">of 0.09s (1.12%)</tspan></text></g>
<g id="n-newobject" class="n"><rect x="1873" y="1956" width="129" height="70" fill="#ede9e4" stroke="#b2936f"/><text class="f10" x="1937.5" y="1973.9">runtime<tspan x="1937.5" dy="14.6">newobject</tspan><tspan x="1937.5" dy="14.6">0.05s (0.62%)</tspan><tspan x="1937.5" dy="14.6">of 0.60s (7.49%)</tspan></text></g>
<g id="n-mallocgc" class="n"><rect x="1856" y="2121" width="162" height="80" fill="#ede6e0" stroke="#b28253"/><text class="f12" x="1937" y="2140.5">runtime<tspan x="1937" dy="17.5">mallocgc</tspan><tspan x="1937" dy="17.5">0.16s (2.00%)</tspan><tspan x="1937" dy="17.5">of 0.85s (10.61%)</tspan></text></g>
<g id="n-nextFreeFast" class="n"><rect x="1681" y="2295" width="125" height="58" fill="#edeceb" stroke="#b2afa7"/><text class="f11" x="1743.5" y="2313.3">runtime<tspan x="1743.5" dy="16">nextFreeFast</tspan><tspan x="1743.5" dy="16">0.10s (1.25%)</tspan></text></g>
<g id="n-nextFree" class="n"><rect x="1879" y="2295" width="118" height="58" fill="#edebe9" stroke="#b2a794"/><text class="f8" x="1938" y="2309.8">runtime<tspan x="1938" dy="12">(*mcache)</tspan><tspan x="1938" dy="12">nextFree</tspan><tspan x="1938" dy="12">0 of 0.27s (3.37%)</tspan></text></g>
<g id="n-refill" class="n"><rect x="1879" y="2443" width="118" height="59" fill="#edecea" stroke="#b2aa9b"/><text class="f8" x="1938" y="2458.3">runtime<tspan x="1938" dy="12">(*mcache)</tspan><tspan x="1938" dy="12">refill</tspan><tspan x="1938" dy="12">0 of 0.21s (2.62%)</tspan></text></g>
<g id="n-memclrNoHeapPointers" class="n"><rect x="1543" y="2588" width="202" height="58" fill="#edeceb" stroke="#b2afa8"/><text class="f11" x="1644" y="2606.3">runtime<tspan x="1644" dy="16">memclrNoHeapPointers</tspan><tspan x="1644" dy="16">0.09s (1.12%)</tspan></text></g>
<g id="n-mcall" class="n"><rect x="1910" y="2585" width="132" height="64" fill="#edddd5" stroke="#b23c00"/><text class="f9" x="1976" y="2601.3">runtime<tspan x="1976" dy="13.3">mcall</tspan><tspan x="1976" dy="13.3">0.01s (0.12%)</tspan><tspan x="1976" dy="13.3">of 2.02s (25.22%)</tspan></text></g>
<g id="n-systemstack" class="n"><rect x="2217" y="2585" width="124" height="64" fill="#ede9e5" stroke="#b29776"/><text class="f9" x="2279" y="2601.3">runtime<tspan x="2279" dy="13.3">systemstack</tspan><tspan x="2279" dy="13.3">0.01s (0.12%)</tspan><tspan x="2279" dy="13.3">of 0.54s (6.74%)</tspan></text></g>
<g id="n-schedule" class="n"><rect x="1908" y="2717" width="137" height="70" fill="#edddd5" stroke="#b23d00"/><text class="f10" x="1976.5" y="2734.9">runtime<tspan x="1976.5" dy="14.6">schedule</tspan><tspan x="1976.5" dy="14.6">0.05s (0.62%)</tspan><tspan x="1976.5" dy="14.6">of 1.95s (24.34%)</tspan></text></g>
<g id="n-futex" class="n"><rect x="2070" y="2722" width="124" height="59" fill="#edeceb" stroke="#b2afa7"/><text class="f11" x="2132" y="2740.8">runtime<tspan x="2132" dy="16">futex</tspan><tspan x="2132" dy="16">0.10s (1.25%)</tspan></text></g>
<g id="n-gcBgMarkWorkerfunc2" class="n"><rect x="2219" y="2722" width="119" height="59" fill="#edebe9" stroke="#b2a895"/><text class="f8" x="2278.5" y="2737.3">runtime<tspan x="2278.5" dy="12">gcBgMarkWorker</tspan><tspan x="2278.5" dy="12">func2</tspan><tspan x="2278.5" dy="12">0 of 0.26s (3.25%)</tspan></text></g>
<g id="n-findRunnable" class="n"><rect x="1899" y="2854" width="153" height="75" fill="#edddd5" stroke="#b23f00"/><text class="f11" x="1975.5" y="2872.8">runtime<tspan x="1975.5" dy="16">findRunnable</tspan><tspan x="1975.5" dy="16">0.07s (0.87%)</tspan><tspan x="1975.5" dy="16">of 1.87s (23.35%)</tspan></text></g>
<g id="n-gcDrain" class="n"><rect x="2160" y="2868" width="118" height="48" fill="#edebe9" stroke="#b2a895"/><text class="f8" x="2219" y="2883.8">runtime<tspan x="2219" dy="12">gcDrain</tspan><tspan x="2219" dy="12">0 of 0.26s (3.25%)</tspan></text></g>
<g id="n-casgstatus" class="n"><rect x="1749" y="3004" width="131" height="70" fill="#edeceb" stroke="#b2b0aa"/><text class="f10" x="1814.5" y="3021.9">runtime<tspan x="1814.5" dy="14.6">casgstatus</tspan><tspan x="1814.5" dy="14.6">0.03s (0.37%)</tspan><tspan x="1814.5" dy="14.6">of 0.07s (0.87%)</tspan></text></g>
<g id="n-netpoll" class="n"><rect x="1908" y="3004" width="137" height="70" fill="#ede0d8" stroke="#b25313"/><text class="f10" x="1976.5" y="3021.9">runtime<tspan x="1976.5" dy="14.6">netpoll</tspan><tspan x="1976.5" dy="14.6">0.03s (0.37%)</tspan><tspan x="1976.5" dy="14.6">of 1.43s (17.85%)</tspan></text></g>
<g id="n-scanobject" class="n"><rect x="2070" y="3001" width="143" height="76" fill="#edebe9" stroke="#b2a794"/><text class="f11" x="2141.5" y="3020.3">runtime<tspan x="2141.5" dy="16">scanobject</tspan><tspan x="2141.5" dy="16">0.09s (1.12%)</tspan><tspan x="2141.5" dy="16">of 0.27s (3.37%)</tspan></text></g>
<g id="n-timerscheck" class="n"><rect x="2238" y="2997" width="129" height="84" fill="#edece9" stroke="#b2a999"/><text class="f10" x="2302.5" y="3014.6">runtime<tspan x="2302.5" dy="14.6">(*timers)</tspan><tspan x="2302.5" dy="14.6">check</tspan><tspan x="2302.5" dy="14.6">0.04s (0.5%)</tspan><tspan x="2302.5" dy="14.6">of 0.22s (2.75%)</tspan></text></g>
<g id="n-Syscall6" class="n"><rect x="1845" y="3149" width="262" height="121" fill="#eddad5" stroke="#b22800"/><text class="f24" x="1976" y="3185">syscall<tspan x="1976" dy="36">Syscall6</tspan><tspan x="1976" dy="36">3.43s (42.82%)</tspan></text></g>
<g id="n-typePointersnext" class="n"><rect x="2131" y="3161" width="126" height="92" fill="#edeceb" stroke="#b2b0a9"/><text class="f11" x="2194" y="3180.3">runtime<tspan x="2194" dy="16">typePointers</tspan><tspan x="2194" dy="16">next</tspan><tspan x="2194" dy="16">0.07s (0.87%)</tspan><tspan x="2194" dy="16">of 0.08s (1%)</tspan></text></g>
<g id="n-selectnbsend" class="n"><rect x="2314" y="3183" width="119" height="48" fill="#edeceb" stroke="#b2afa6"/><text class="f8" x="2373.5" y="3198.8">runtime<tspan x="2373.5" dy="12">selectnbsend</tspan><tspan x="2373.5" dy="12">0 of 0.11s (1.37%)</tspan></text></g>
<g id="n-funcMaxSPDelta" class="n"><rect x="2651" y="3172" width="135" height="69" fill="#edeceb" stroke="#b2b0a9"/><text class="f10" x="2718.5" y="3189.4">runtime<tspan x="2718.5" dy="14.6">funcMaxSPDelta</tspan><tspan x="2718.5" dy="14.6">0.02s (0.25%)</tspan><tspan x="2718.5" dy="14.6">of 0.08s (1%)</tspan></text></g>
<g id="n-pcvalue" class="n"><rect x="2810" y="3169" width="145" height="76" fill="#edebe8" stroke="#b2a38c"/><text class="f11" x="2882.5" y="3188.3">runtime<tspan x="2882.5" dy="16">pcvalue</tspan><tspan x="2882.5" dy="16">0.09s (1.12%)</tspan><tspan x="2882.5" dy="16">of 0.34s (4.24%)</tspan></text></g>
<g id="n-step" class="n"><rect x="2671" y="3354" width="153" height="81" fill="#edecea" stroke="#b2ab9c"/><text class="f12" x="2747.5" y="3374">runtime<tspan x="2747.5" dy="17.5">step</tspan><tspan x="2747.5" dy="17.5">0.17s (2.12%)</tspan><tspan x="2747.5" dy="17.5">of 0.20s (2.50%)</tspan></text></g>
<g id="n-funcInfoentry" class="n"><rect x="2876" y="3352" width="130" height="85" fill="#edeceb" stroke="#b2afa6"/><text class="f10" x="2941" y="3370.1">runtime<tspan x="2941" dy="14.6">funcInfo</tspan><tspan x="2941" dy="14.6">entry</tspan><tspan x="2941" dy="14.6">0.03s (0.37%)</tspan><tspan x="2941" dy="14.6">of 0.11s (1.37%)</tspan></text></g>
<g id="n-textAddr" class="n"><rect x="2876" y="3504" width="130" height="75" fill="#edeceb" stroke="#b2b0a9"/><text class="f11" x="2941" y="3522.8">runtime<tspan x="2941" dy="16">(*moduledata)</tspan><tspan x="2941" dy="16">textAddr</tspan><tspan x="2941" dy="16">0.08s (1%)</tspan></text></g>
<g id="n-newstack" class="n"><rect x="2769" y="2585" width="125" height="64" fill="#ede8e3" stroke="#b28f67"/><text class="f9" x="2831.5" y="2601.3">runtime<tspan x="2831.5" dy="13.3">newstack</tspan><tspan x="2831.5" dy="13.3">0.01s (0.12%)</tspan><tspan x="2831.5" dy="13.3">of 0.67s (8.36%)</tspan></text></g>
<g id="n-copystack" class="n"><rect x="2773" y="2728" width="118" height="48" fill="#ede9e5" stroke="#b29776"/><text class="f8" x="2832" y="2743.8">runtime<tspan x="2832" dy="12">copystack</tspan><tspan x="2832" dy="12">0 of 0.54s (6.74%)</tspan></text></g>
<g id="n-unwindernext" class="n"><rect x="2567" y="2863" width="119" height="58" fill="#edecea" stroke="#b2ab9e"/><text class="f8" x="2626.5" y="2877.8">runtime<tspan x="2626.5" dy="12">(*unwinder)</tspan><tspan x="2626.5" dy="12">next</tspan><tspan x="2626.5" dy="12">0 of 0.18s (2.25%)</tspan></text></g>
<g id="n-adjustframe" class="n"><rect x="2818" y="2857" width="129" height="70" fill="#edebe8" stroke="#b2a58f"/><text class="f10" x="2882.5" y="2874.9">runtime<tspan x="2882.5" dy="14.6">adjustframe</tspan><tspan x="2882.5" dy="14.6">0.04s (0.5%)</tspan><tspan x="2882.5" dy="14.6">of 0.31s (3.87%)</tspan></text></g>
<g id="n-findfunc" class="n"><rect x="2442" y="3010" width="126" height="58" fill="#edeceb" stroke="#b2afa7"/><text class="f11" x="2505" y="3028.3">runtime<tspan x="2505" dy="16">findfunc</tspan><tspan x="2505" dy="16">0.10s (1.25%)</tspan></text></g>
<g id="n-resolveInternal" class="n"><rect x="2592" y="2997" width="130" height="84" fill="#edecea" stroke="#b2ab9e"/><text class="f10" x="2657" y="3014.6">runtime<tspan x="2657" dy="14.6">(*unwinder)</tspan><tspan x="2657" dy="14.6">resolveInternal</tspan><tspan x="2657" dy="14.6">0.04s (0.5%)</tspan><tspan x="2657" dy="14.6">of 0.18s (2.25%)</tspan></text></g>
</svg>
